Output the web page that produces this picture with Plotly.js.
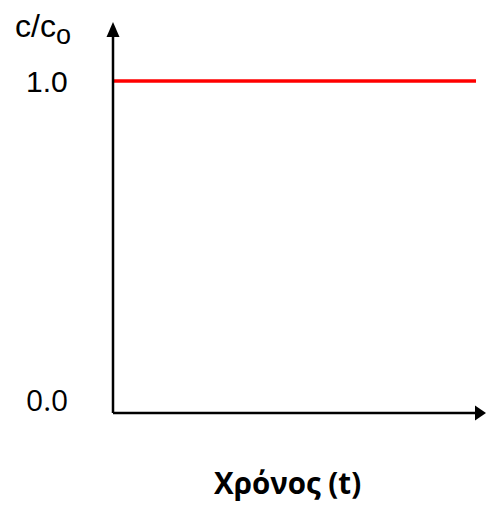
<!DOCTYPE html>
<html>
<head>
<meta charset="utf-8">
<script src="https://cdn.plot.ly/plotly-3.0.1.min.js"></script>
<style>html,body{margin:0;padding:0;background:#fff;}#chart{width:486px;height:507px;}</style>
</head>
<body>
<div id="chart"></div>
<script>
// Data
const timeValues = [0, 10];
const concentrationValues = [1.0, 1.0];
const yTickValues = [1.0, 0.0];
const yTickLabels = ['1.0', '0.0'];
const yAxisLabel = 'c/c<sub><span style="font-size:27px">o</span></sub>';
const xAxisLabel = '<b>Χρόνος (t)</b>';

const trace = {
  x: timeValues,
  y: concentrationValues,
  mode: 'lines',
  line: {color: '#ff0000', width: 3.5},
  hoverinfo: 'skip',
  showlegend: false
};

const tickAnnotations = yTickValues.map((v, i) => ({
  xref: 'paper', yref: 'y', x: -0.115, y: v,
  xanchor: 'right', yanchor: 'middle',
  yshift: i === 1 ? 14 : 0,
  text: yTickLabels[i], showarrow: false,
  font: {family: i === 1 ? 'Open Sans' : 'Liberation Sans, Arial', size: 30, color: '#000'}
}));

const layout = {
  width: 486, height: 507,
  margin: {l: 113, r: 0, t: 22, b: 94},
  paper_bgcolor: '#fff', plot_bgcolor: '#fff',
  xaxis: {
    range: [0, 10.275], showgrid: false, zeroline: false,
    showline: false, showticklabels: false, ticks: '', fixedrange: true
  },
  yaxis: {
    range: [0, 1.178], showgrid: false, zeroline: false,
    showline: false, showticklabels: false, ticks: '', fixedrange: true
  },
  shapes: [
    {type: 'line', xref: 'paper', yref: 'paper', x0: 0, x1: 0.98, y0: 0, y1: 0,
     line: {color: '#000', width: 2.5}},
    {type: 'line', xref: 'paper', yref: 'paper', x0: 0, x1: 0, y0: 0, y1: 0.97,
     line: {color: '#000', width: 2.5}},
    {type: 'path', xref: 'paper', yref: 'paper', xsizemode: 'pixel', ysizemode: 'pixel',
     xanchor: 1, yanchor: 0, path: 'M0,0 L-11,-7.5 L-11,7.5 Z',
     fillcolor: '#000', line: {color: '#000', width: 0}},
    {type: 'path', xref: 'paper', yref: 'paper', xsizemode: 'pixel', ysizemode: 'pixel',
     xanchor: 0, yanchor: 1, path: 'M0,0 L-6.5,-15 L6.5,-15 Z',
     fillcolor: '#000', line: {color: '#000', width: 0}}
  ],
  annotations: tickAnnotations.concat([
    {xref: 'paper', yref: 'paper', x: -0.107, y: 1, xanchor: 'right', yanchor: 'top',
     yshift: 16, text: yAxisLabel, showarrow: false,
     font: {family: 'Liberation Sans, Arial', size: 32, color: '#000'}},
    {xref: 'paper', yref: 'paper', x: 0.469, y: 0, xanchor: 'center', yanchor: 'top',
     yshift: -47, text: xAxisLabel, showarrow: false,
     font: {family: 'Open Sans', size: 29.5, color: '#000'}}
  ])
};

Plotly.newPlot('chart', [trace], layout, {staticPlot: true, displayModeBar: false});
</script>
</body>
</html>
